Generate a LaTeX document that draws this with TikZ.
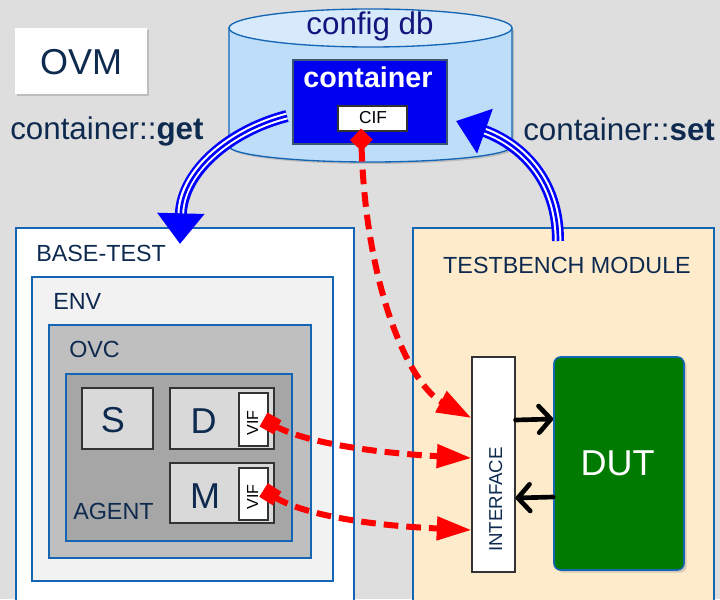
\documentclass[tikz,border=0pt]{standalone}
\usepackage{fontspec}
\setmainfont{Liberation Sans}
\usetikzlibrary{arrows.meta,shadows}

\definecolor{bggray}{HTML}{DEDEDE}
\definecolor{navytext}{HTML}{0E2A4F}
\definecolor{edgeblue}{HTML}{1565B5}
\definecolor{dbblue}{HTML}{BDDDF8}
\definecolor{dbtop}{HTML}{D6EAFB}
\definecolor{dbtext}{HTML}{14147F}
\definecolor{cblue}{HTML}{0000F0}
\definecolor{tbbeige}{HTML}{FDEBCB}
\definecolor{dutgreen}{HTML}{007A00}
\definecolor{envgray}{HTML}{F2F2F2}
\definecolor{ovcgray}{HTML}{BFBFBF}
\definecolor{agentgray}{HTML}{A6A6A6}
\definecolor{subgray}{HTML}{D9D9D9}

\tikzset{
  layer/.style={draw=edgeblue, line width=1.5pt, inner sep=0pt},
  unit/.style={draw=black!80, line width=0.9pt, fill=subgray, inner sep=0pt},
  vifbox/.style={draw=black!80, line width=0.8pt, fill=white, inner sep=0pt},
  lbl/.style={text=navytext, inner sep=0pt, font=\fontsize{17.5}{21}\selectfont},
  getset/.style={draw=blue, line width=9pt, -{Triangle[length=23pt,width=34pt]},
    postaction={draw=white, line width=5pt, -, shorten >=23pt},
    postaction={draw=blue, line width=2pt, -, shorten >=22pt}},
  vlink/.style={draw=red, line width=4.5pt, dash pattern=on 11pt off 6pt},
  sig/.style={draw=black, line width=3.5pt, line cap=round, -{Straight Barb[length=9pt,width=20pt,round,line width=3.5pt]}},
}

\begin{document}
\begin{tikzpicture}[x=0.75pt,y=0.75pt,yscale=-1,xscale=1]
\clip (0,0) rectangle (720,599);
\fill [bggray] (0,0) rectangle (720,599);

%Shape: Rectangle [OVM]
\node (ovm) [fill=white, minimum width=99pt, minimum height=49.5pt, inner sep=0pt,
  drop shadow={shadow xshift=1.5pt, shadow yshift=-1.5pt, opacity=0.35}] at (81,61) {};
% Text Node
\node [anchor=base, text=navytext, font=\fontsize{27}{32}\selectfont, inner sep=0pt] at (81,75) {OVM};

% Text Node
\node (getlbl) [anchor=base west, text=navytext, font=\fontsize{23.5}{28}\selectfont, inner sep=0pt] at (10,140) {container::\textbf{get}};
% Text Node
\node (setlbl) [anchor=base west, text=navytext, font=\fontsize{23.5}{28}\selectfont, inner sep=0pt] at (523,141) {container::\textbf{set}};

%Shape: Can [config db]
\draw [draw=edgeblue, line width=1pt, fill=dbblue, drop shadow={shadow xshift=1.5pt, shadow yshift=-1.5pt, opacity=0.35}] (229,28) -- (229,146) .. controls (229,154.84) and (292.35,162) .. (370.5,162) .. controls (448.65,162) and (512,154.84) .. (512,146) -- (512,28) -- cycle ;
\draw [draw=edgeblue, line width=1pt, fill=dbtop] (370.5,28) ellipse [x radius=141.5, y radius=19] ;
% Text Node
\node (cfgdb) [anchor=base, text=dbtext, font=\fontsize{23.5}{28}\selectfont, inner sep=0pt] at (370,35) {config db};

%Shape: Rectangle [container]
\node (container) [fill=cblue, draw=navytext!80, line width=1.5pt, minimum width=115.5pt, minimum height=63pt, inner sep=0pt] at (370,102) {};
% Text Node
\node [anchor=base, text=white, font=\fontsize{21.5}{26}\selectfont\bfseries, inner sep=0pt] at (368,88) {container};
%Shape: Rectangle [CIF]
\node (cif) [vifbox, minimum width=51.75pt, minimum height=18.75pt] at (372.5,118.5) {};
% Text Node
\node [anchor=base, font=\fontsize{13}{15}\selectfont, inner sep=0pt] at (373,123) {CIF};

%Shape: Rectangle [BASE-TEST]
\node (basetest) [layer, fill=white, minimum width=253.5pt, minimum height=294pt] at (185,424) {};
\node [lbl, anchor=base west] at (36,261) {BASE-TEST};
%Shape: Rectangle [ENV]
\node (env) [layer, fill=envgray, minimum width=225.75pt, minimum height=228pt] at (182.5,429) {};
\node [lbl, anchor=base west] at (53,309) {ENV};
%Shape: Rectangle [OVC]
\node (ovc) [layer, fill=ovcgray, minimum width=196.5pt, minimum height=174.75pt] at (180,441.5) {};
\node [lbl, anchor=base west] at (69,357) {OVC};
%Shape: Rectangle [AGENT]
\node (agent) [layer, fill=agentgray, minimum width=169.5pt, minimum height=125.25pt] at (179,457.5) {};
\node [lbl, anchor=base west] at (73,519) {AGENT};

%Shape: Rectangle [S, D, M]
\node (seq) [unit, minimum width=53.25pt, minimum height=45.75pt] at (117.5,418.5) {};
\node [anchor=base, text=navytext, font=\fontsize{27}{32}\selectfont, inner sep=0pt] at (113,432) {S};
\node (drv) [unit, minimum width=78pt, minimum height=45.75pt] at (222,418.5) {};
\node [anchor=base, text=navytext, font=\fontsize{27}{32}\selectfont, inner sep=0pt] at (203.5,433) {D};
\node (mon) [unit, minimum width=78pt, minimum height=45pt] at (222,493) {};
\node [anchor=base, text=navytext, font=\fontsize{27}{32}\selectfont, inner sep=0pt] at (205,508) {M};
\node (vifd) [vifbox, minimum width=21.75pt, minimum height=39.75pt] at (253.5,419.5) {};
\node [anchor=base, rotate=90, font=\fontsize{12}{14}\selectfont, inner sep=0pt] at (258,423) {VIF};
\node (vifm) [vifbox, minimum width=21.75pt, minimum height=39pt] at (253.5,494) {};
\node [anchor=base, rotate=90, font=\fontsize{12}{14}\selectfont, inner sep=0pt] at (258,497) {VIF};

%Shape: Rectangle [TESTBENCH MODULE]
\node (tb) [layer, fill=tbbeige, minimum width=225.75pt, minimum height=294pt] at (563.5,424) {};
\node [lbl, anchor=base] at (567,273) {TESTBENCH MODULE};
%Shape: Rectangle [INTERFACE]
\node (iface) [vifbox, minimum width=32.25pt, minimum height=161.25pt] at (493.5,464.5) {};
\node [anchor=base, rotate=90, text=navytext, font=\fontsize{14}{17}\selectfont, inner sep=0pt] at (502,499.5) {INTERFACE};
%Shape: Rectangle [DUT]
\node (dut) [fill=dutgreen, draw=edgeblue, line width=1.2pt, rounded corners=5pt, minimum width=97.5pt, minimum height=159.75pt, inner sep=0pt,
  drop shadow={shadow xshift=2pt, shadow yshift=-2pt, opacity=0.3}] at (619,463.5) {};
\node [anchor=base, text=white, font=\fontsize{27}{32}\selectfont, inner sep=0pt] at (617.5,475) {DUT};

%Curve Lines [get / set]
\draw [getset] ([shift={(-5,14)}]container.west) .. controls (232,130) and (182,170) .. ([shift={(-5,17)}]basetest.north) ;
\draw [getset] ([shift={(-5.5,14)}]tb.north) .. controls (558,170) and (510,140) .. ([shift={(8,19)}]container.east) ;

%Curve Lines [virtual interface links]
\draw [vlink, {Turned Square[length=17pt,width=17pt]}-{Triangle[length=26pt,width=17pt]}] ([shift={(-11.5,-3)}]cif.south) .. controls (366,290) and (410,385) .. ([shift={(0,-46.5)}]iface.west) ;
\draw [vlink, {Square[length=12pt,width=12pt]}-{Triangle[length=26pt,width=17pt]}] ([shift={(-5,0)}]vifd.east) .. controls (300,440) and (360,452) .. ([shift={(0,-6.5)}]iface.west) ;
\draw [vlink, {Square[length=12pt,width=12pt]}-{Triangle[length=26pt,width=17pt]}] ([shift={(-5,-4)}]vifm.east) .. controls (300,513) and (360,525) .. ([shift={(0,65.5)}]iface.west) ;

%Straight Lines [pins]
\draw [sig] ([shift={(0,-44.5)}]iface.east) -- ([shift={(0,-44.5)}]dut.west) ;
\draw [sig] ([shift={(0,33.5)}]dut.west) -- ([shift={(0,33.5)}]iface.east) ;

\end{tikzpicture}
\end{document}
